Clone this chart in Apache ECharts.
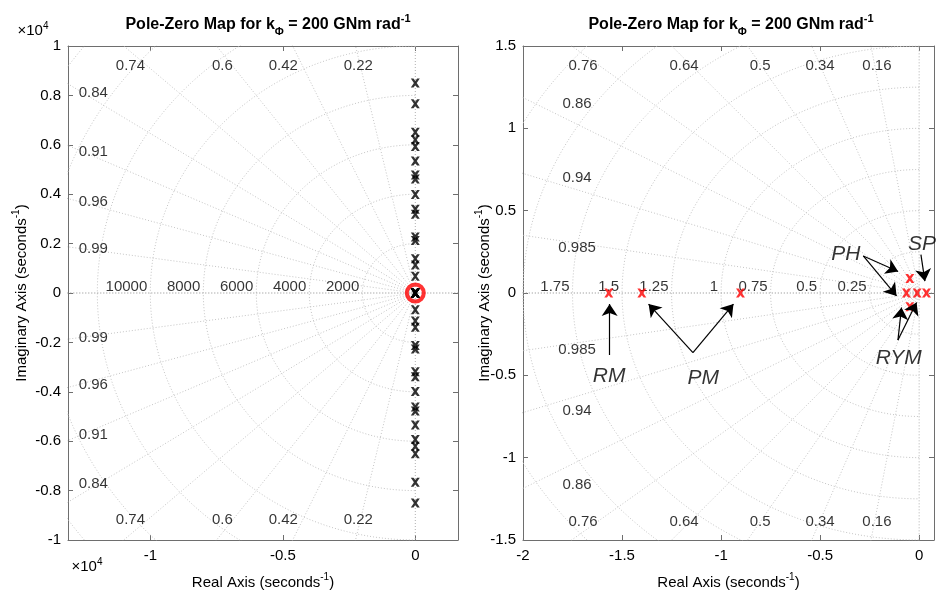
<!DOCTYPE html>
<html>
<head>
    <meta charset="utf-8">
    <script src="https://cdn.jsdelivr.net/npm/echarts@6/dist/echarts.min.js"></script>
</head>
<body style="margin:0">
    <div id="main" style="width:936px;height:599px;"></div>
<script type="text/javascript">
    // poles (rad/s)
    var hiRe = [0, 0, 0, 0, 0, 0, 0, 0, 0, 0, 0, 0, 0, 0, 0, 0,
                0, 0, 0, 0, 0, 0, 0, 0, 0, 0, 0, 0, 0, 0, 0, 0];
    var hiIm = [8500, 7660, 6510, 6200, 5930, 5340, 4780, 4620, 3990, 3390, 3190, 2270, 2130, 1390, 1130, 680,
                -680, -1130, -1390, -2130, -2270, -3190, -3390, -3990, -4620, -4780, -5340, -5930, -6200, -6510, -7660, -8500];
    var loRe = [-1.567, -1.40, -0.902, -0.064, -0.047, -0.047, -0.010, 0.037];
    var loIm = [0, 0, 0, 0, 0.088, -0.083, 0, 0];

    // grid values
    var dampL = [0.22, 0.42, 0.6, 0.74, 0.84, 0.91, 0.96, 0.99];
    var freqL = [2000, 4000, 6000, 8000, 10000, 12000, 14000, 16000];
    var freqTextL = [2000, 4000, 6000, 8000, 10000];
    var dampR = [0.16, 0.34, 0.5, 0.64, 0.76, 0.86, 0.94, 0.985];
    var freqR = [0.25, 0.5, 0.75, 1, 1.25, 1.5, 1.75, 2, 2.25, 2.5];
    var freqTextR = [0.25, 0.5, 0.75, 1, 1.25, 1.5, 1.75];

    // where the damping texts sit (data units)
    var dampTextL = ['0.74', '0.6', '0.42', '0.22', '0.84', '0.91', '0.96', '0.99',
                     '0.74', '0.6', '0.42', '0.22', '0.84', '0.91', '0.96', '0.99'];
    var dampSpotL = [[-10750, 9180], [-7280, 9180], [-4980, 9180], [-2150, 9180],
                     [-12150, 8110], [-12150, 5730], [-12150, 3700], [-12150, 1790],
                     [-10750, -9185], [-7280, -9185], [-4980, -9185], [-2150, -9185],
                     [-12150, -7720], [-12150, -5730], [-12150, -3700], [-12150, -1830]];
    var dampTextR = ['0.76', '0.64', '0.5', '0.34', '0.16', '0.86', '0.94', '0.985',
                     '0.76', '0.64', '0.5', '0.34', '0.16', '0.86', '0.94', '0.985'];
    var dampSpotR = [[-1.697, 1.377], [-1.187, 1.377], [-0.803, 1.377], [-0.5, 1.377], [-0.213, 1.377],
                     [-1.727, 1.151], [-1.727, 0.698], [-1.727, 0.274],
                     [-1.697, -1.389], [-1.187, -1.389], [-0.803, -1.389], [-0.5, -1.389], [-0.213, -1.389],
                     [-1.727, -1.163], [-1.727, -0.716], [-1.727, -0.346]];

    // mode annotations on the right plot
    var noteText = ['RM', 'PM', 'PH', 'SP', 'RYM'];
    var noteSpot = [[-1.565, -0.505], [-1.09, -0.515], [-0.37, 0.238], [0.014, 0.298], [-0.103, -0.394]];
    var arrowTail = [[-1.5625, -0.376], [-1.142, -0.362], [-1.142, -0.362], [-0.282, 0.225], [-0.282, 0.225],
                     [0.009, 0.233], [-0.107, -0.286], [-0.107, -0.286]];
    var arrowTip = [[-1.5625, -0.067], [-1.366, -0.067], [-0.9375, -0.067], [-0.106, 0.131], [-0.114, -0.018],
                    [0.029, 0.072], [-0.089, -0.088], [-0.013, -0.058]];

    var FONT = 'Liberation Sans';
    var GRIDCOL = '#c4c4c4';
    var XMARK = 'path://M0,0 L3,0 L5,2.6 L7,0 L10,0 L6.6,5 L10,10 L7,10 L5,7.4 L3,10 L0,10 L3.4,5 Z';

    var myChart = echarts.init(document.getElementById('main'));

    function dotted(data, xi, yi, col) {
        return {
            type: 'line', xAxisIndex: xi, yAxisIndex: yi, data: data, symbol: 'none', silent: true,
            lineStyle: { color: col || GRIDCOL, width: 1, type: [1, 2] }, z: 1, animation: false
        };
    }

    function sgrid(damp, freqs, far, xi, yi) {
        var out = [];
        damp.forEach(function (z) {
            var s = Math.sqrt(1 - z * z);
            out.push(dotted([[0, 0], [-z * far, s * far]], xi, yi));
            out.push(dotted([[0, 0], [-z * far, -s * far]], xi, yi));
        });
        freqs.forEach(function (r) {
            var pts = [];
            for (var a = 90; a <= 270; a += 1.5) {
                var t = a * Math.PI / 180;
                pts.push([r * Math.cos(t), r * Math.sin(t)]);
            }
            out.push(dotted(pts, xi, yi));
        });
        out.push(dotted([[-far, 0], [far, 0]], xi, yi, '#8a8a8a'));
        out.push(dotted([[0, -far], [0, far]], xi, yi, '#b0b0b0'));
        return out;
    }

    function textSeries(names, spots, xi, yi, extra) {
        return {
            type: 'scatter', xAxisIndex: xi, yAxisIndex: yi, symbolSize: 0, silent: true, z: 3,
            data: spots.map(function (p, i) { return { name: names[i], value: p }; }),
            label: Object.assign({
                show: true, position: [0, 0], align: 'center', verticalAlign: 'middle',
                formatter: function (p) { return p.name; },
                color: '#000', fontSize: 15, fontFamily: FONT
            }, extra || {})
        };
    }

    function freqSeries(vals, xi, yi) {
        return textSeries(vals.map(String), vals.map(function (r) { return [-r, 0]; }), xi, yi,
            { align: 'right', verticalAlign: 'bottom', position: [-3, 1] });
    }

    var supRich = {
        sup: { fontSize: 10, lineHeight: 10, verticalAlign: 'top', fontFamily: FONT },
        sub: { fontSize: 10, lineHeight: 10, verticalAlign: 'bottom', fontFamily: FONT, fontWeight: 'bold' }
    };

    function axisBase(grid, extra) {
        return Object.assign({
            type: 'value', gridIndex: grid, scale: false, nameMoveOverlap: false,
            axisLine: { show: true, onZero: false, lineStyle: { color: '#6e6e6e', width: 1 } },
            axisTick: { show: true, inside: true, length: 5, lineStyle: { color: '#6e6e6e' } },
            splitLine: { show: false },
            axisLabel: { color: '#000', fontSize: 15, fontFamily: FONT }
        }, extra);
    }

    var tickL = [-10000, -5000, 0];
    var tickR = [-2, -1.5, -1, -0.5, 0];
    var nameStyle = { fontSize: 15, fontFamily: FONT, color: '#000', lineHeight: 22, rich: supRich };

    var series = [];
    series = series.concat(sgrid(dampL, freqL, 30000, 0, 0));
    series = series.concat(sgrid(dampR, freqR, 5, 2, 2));
    series.push(textSeries(dampTextL, dampSpotL, 0, 0));
    series.push(textSeries(dampTextR, dampSpotR, 2, 2));
    series.push(freqSeries(freqTextL, 0, 0));
    series.push(freqSeries(freqTextR, 2, 2));

    // zoom ring around origin on the left plot
    series.push({
        type: 'scatter', xAxisIndex: 0, yAxisIndex: 0, symbol: 'circle', symbolSize: 17, silent: true, z: 4,
        itemStyle: { color: 'rgba(0,0,0,0)', borderColor: '#ff0000', borderWidth: 4 },
        data: [[0, 0]]
    });
    series.push({
        type: 'scatter', xAxisIndex: 0, yAxisIndex: 0, symbol: XMARK, symbolSize: 9, z: 5,
        itemStyle: { color: '#000' },
        data: hiRe.map(function (r, i) { return [r, hiIm[i]]; })
            .concat(loRe.map(function (r, i) { return [r, loIm[i]]; }))
    });
    series.push({
        type: 'scatter', xAxisIndex: 2, yAxisIndex: 2, symbol: XMARK, symbolSize: 9, z: 5,
        itemStyle: { color: '#ff0000' },
        data: loRe.map(function (r, i) { return [r, loIm[i]]; })
    });
    series.push({
        type: 'lines', coordinateSystem: 'cartesian2d', xAxisIndex: 2, yAxisIndex: 2, z: 6, silent: true,
        symbol: ['none', 'arrow'], symbolSize: [0, 12],
        lineStyle: { color: '#000', width: 1.2, opacity: 1, curveness: 0 },
        data: arrowTail.map(function (t, i) { return { coords: [t, arrowTip[i]] }; })
    });
    series.push(textSeries(noteText, noteSpot, 2, 2, { fontSize: 21, fontStyle: 'italic' }));

    var titleText = 'Pole-Zero Map for k{sub|Φ} = 200 GNm rad{sup|-1}';
    var titleRich = {
        sup: { fontSize: 11, lineHeight: 10, verticalAlign: 'top', fontWeight: 'bold', fontFamily: FONT },
        sub: { fontSize: 11, lineHeight: 10, verticalAlign: 'bottom', fontWeight: 'bold', fontFamily: FONT }
    };

    myChart.setOption({
        animation: false,
        backgroundColor: '#fff',
        grid: [
            { left: 68, top: 46, width: 390, height: 503 },
            { left: 523, top: 46, width: 411, height: 503 }
        ],
        xAxis: [
            axisBase(0, {
                min: -13106, max: 1611, position: 'bottom',
                axisTick: { show: true, inside: true, length: 5, customValues: tickL, lineStyle: { color: '#6e6e6e' } },
                axisLabel: { color: '#000', fontSize: 15, fontFamily: FONT, margin: 8, customValues: tickL,
                    formatter: function (v) { return String(v / 10000); } },
                name: 'Real Axis (seconds{sup|-1})', nameLocation: 'middle', nameGap: 32, nameTextStyle: nameStyle
            }),
            axisBase(0, {
                min: -13106, max: 1611, position: 'top',
                axisTick: { show: true, inside: true, length: 5, customValues: tickL, lineStyle: { color: '#6e6e6e' } },
                axisLabel: { show: false }
            }),
            axisBase(1, {
                min: -2, max: 0.075, position: 'bottom',
                axisTick: { show: true, inside: true, length: 5, customValues: tickR, lineStyle: { color: '#6e6e6e' } },
                axisLabel: { color: '#000', fontSize: 15, fontFamily: FONT, margin: 8, customValues: tickR },
                name: 'Real Axis (seconds{sup|-1})', nameLocation: 'middle', nameGap: 32, nameTextStyle: nameStyle
            }),
            axisBase(1, {
                min: -2, max: 0.075, position: 'top',
                axisTick: { show: true, inside: true, length: 5, customValues: tickR, lineStyle: { color: '#6e6e6e' } },
                axisLabel: { show: false }
            })
        ],
        yAxis: [
            axisBase(0, {
                min: -10000, max: 10000, interval: 2000, position: 'left',
                axisLabel: { color: '#000', fontSize: 15, fontFamily: FONT, margin: 7,
                    formatter: function (v) { return String(Math.round(v / 1000) / 10); } },
                name: 'Imaginary Axis (seconds{sup|-1})', nameLocation: 'middle', nameGap: 35, nameTextStyle: nameStyle
            }),
            axisBase(0, { min: -10000, max: 10000, interval: 2000, position: 'right', axisLabel: { show: false } }),
            axisBase(1, {
                min: -1.5, max: 1.5, interval: 0.5, position: 'left',
                axisLabel: { color: '#000', fontSize: 15, fontFamily: FONT, margin: 7 },
                name: 'Imaginary Axis (seconds{sup|-1})', nameLocation: 'middle', nameGap: 27, nameTextStyle: nameStyle
            }),
            axisBase(1, { min: -1.5, max: 1.5, interval: 0.5, position: 'right', axisLabel: { show: false } })
        ],
        graphic: [
            { type: 'text', x: 268, y: 25, style: { text: titleText, align: 'center', verticalAlign: 'middle',
                font: 'bold 16px ' + FONT, fill: '#000', lineHeight: 24, rich: titleRich } },
            { type: 'text', x: 731, y: 25, style: { text: titleText, align: 'center', verticalAlign: 'middle',
                font: 'bold 16px ' + FONT, fill: '#000', lineHeight: 24, rich: titleRich } },
            { type: 'text', x: 33, y: 31, style: { text: '×10{sup|4}', align: 'center', verticalAlign: 'middle',
                font: '15px ' + FONT, fill: '#000', lineHeight: 20, rich: supRich } },
            { type: 'text', x: 87, y: 567, style: { text: '×10{sup|4}', align: 'center', verticalAlign: 'middle',
                font: '15px ' + FONT, fill: '#000', lineHeight: 20, rich: supRich } }
        ],
        series: series
    });
</script>
</body>
</html>
